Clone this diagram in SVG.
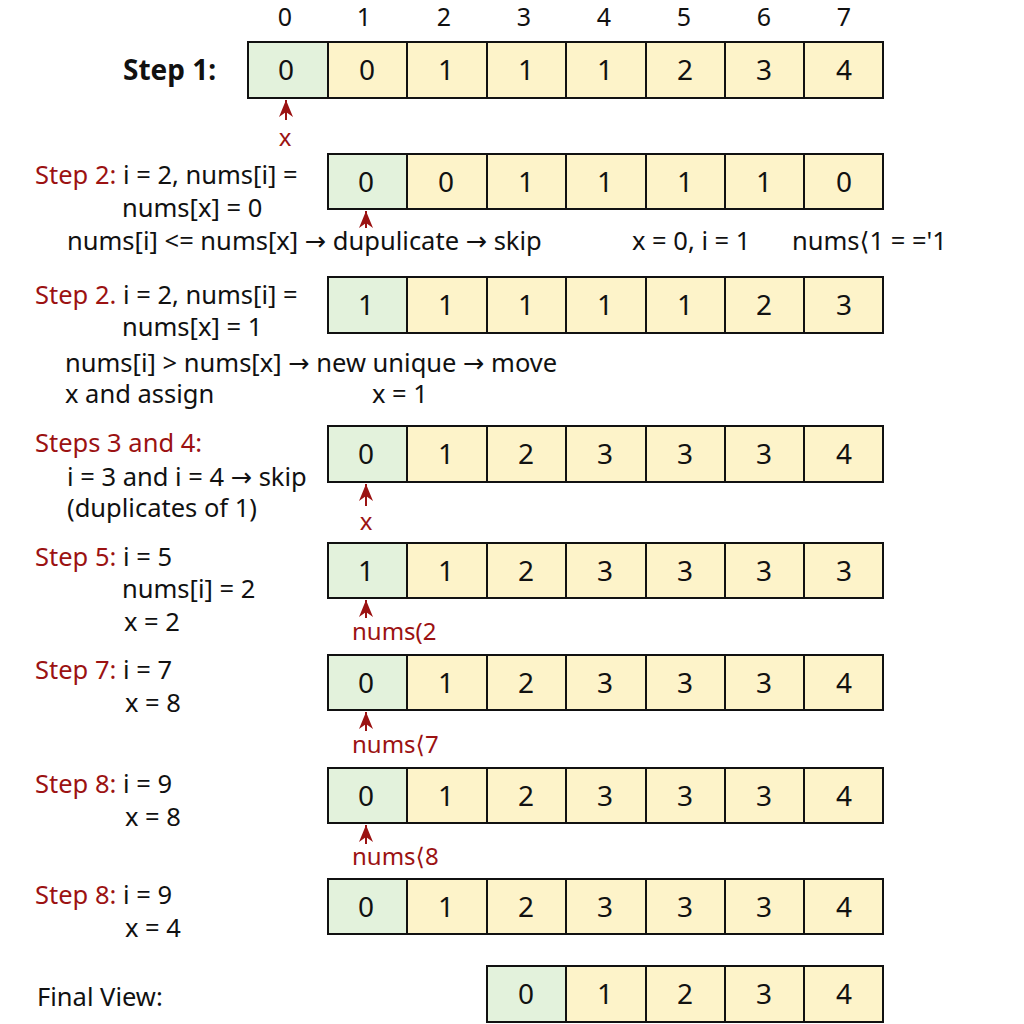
<svg xmlns="http://www.w3.org/2000/svg" width="1024" height="1024" viewBox="0 0 1024 1024">
<defs>
<style>
text{font-family:"Noto Sans","Open Sans","DejaVu Sans",sans-serif;fill:#111;}
.lbl{font-size:25.5px;}
.red{fill:#9b1212;}
.num{font-size:28px;text-anchor:middle;}
.idx{font-size:25px;text-anchor:middle;}
.g{fill:#e3f2dc;stroke:#111;stroke-width:2;}
.y{fill:#fdf3c9;stroke:#111;stroke-width:2;}
.arr{stroke:#9b1212;stroke-width:2;fill:none;}
.ah{fill:#9b1212;}
</style>
<marker id="ah" viewBox="0 0 17 14" refX="17" refY="7" markerWidth="17" markerHeight="14" markerUnits="userSpaceOnUse" orient="auto">
<path d="M17 7 L0 0 L5 7 L0 14 Z" class="ah"/>
</marker>
</defs>
<rect width="1024" height="1024" fill="#fff"/>

<g id="indices">
<text class="idx" x="285" y="26">0</text>
<text class="idx" x="364" y="26">1</text>
<text class="idx" x="444" y="26">2</text>
<text class="idx" x="524" y="26">3</text>
<text class="idx" x="604" y="26">4</text>
<text class="idx" x="684" y="26">5</text>
<text class="idx" x="764" y="26">6</text>
<text class="idx" x="844" y="26">7</text>
</g>

<g id="step1">
<text x="123" y="80" style="font-size:28px;font-weight:bold">Step 1:</text>
<rect class="g" x="248" y="42" width="80" height="56"/>
<rect class="y" x="328" y="42" width="79" height="56"/>
<rect class="y" x="407" y="42" width="80" height="56"/>
<rect class="y" x="487" y="42" width="79" height="56"/>
<rect class="y" x="566" y="42" width="80" height="56"/>
<rect class="y" x="646" y="42" width="79" height="56"/>
<rect class="y" x="725" y="42" width="79" height="56"/>
<rect class="y" x="804" y="42" width="79" height="56"/>
<text class="num" x="286" y="80">0</text>
<text class="num" x="367" y="80">0</text>
<text class="num" x="446" y="80">1</text>
<text class="num" x="526" y="80">1</text>
<text class="num" x="605" y="80">1</text>
<text class="num" x="685" y="80">2</text>
<text class="num" x="764" y="80">3</text>
<text class="num" x="844" y="80">4</text>
<text class="lbl red" x="285" y="146" text-anchor="middle" style="font-size:24px">x</text>
</g>

<g id="step2a">
<text class="lbl" x="35" y="184"><tspan class="red">Step 2:</tspan> i = 2, nums[i] =</text>
<text class="lbl" x="122" y="217">nums[x] = 0</text>
<text class="lbl" x="67" y="250">nums[i] &lt;= nums[x] → dupulicate → skip</text>
<text class="lbl" x="632" y="250">x = 0, i = 1</text>
<text class="lbl" x="792" y="250">nums⟨1 = ='1</text>
<rect class="g" x="328" y="154" width="79" height="55"/>
<rect class="y" x="407" y="154" width="80" height="55"/>
<rect class="y" x="487" y="154" width="79" height="55"/>
<rect class="y" x="566" y="154" width="80" height="55"/>
<rect class="y" x="646" y="154" width="79" height="55"/>
<rect class="y" x="725" y="154" width="79" height="55"/>
<rect class="y" x="804" y="154" width="79" height="55"/>
<text class="num" x="366" y="192">0</text>
<text class="num" x="446" y="192">0</text>
<text class="num" x="526" y="192">1</text>
<text class="num" x="605" y="192">1</text>
<text class="num" x="685" y="192">1</text>
<text class="num" x="764" y="192">1</text>
<text class="num" x="844" y="192">0</text>
</g>

<g id="step2b">
<text class="lbl" x="35" y="304"><tspan class="red">Step 2.</tspan> i = 2, nums[i] =</text>
<text class="lbl" x="122" y="336">nums[x] = 1</text>
<text class="lbl" x="65" y="372">nums[i] &gt; nums[x] → new unique → move</text>
<text class="lbl" x="65" y="403">x and assign</text>
<text class="lbl" x="372" y="403">x = 1</text>
<rect class="g" x="328" y="277" width="79" height="56"/>
<rect class="y" x="407" y="277" width="80" height="56"/>
<rect class="y" x="487" y="277" width="79" height="56"/>
<rect class="y" x="566" y="277" width="80" height="56"/>
<rect class="y" x="646" y="277" width="79" height="56"/>
<rect class="y" x="725" y="277" width="79" height="56"/>
<rect class="y" x="804" y="277" width="79" height="56"/>
<text class="num" x="366" y="315">1</text>
<text class="num" x="446" y="315">1</text>
<text class="num" x="526" y="315">1</text>
<text class="num" x="605" y="315">1</text>
<text class="num" x="685" y="315">1</text>
<text class="num" x="764" y="315">2</text>
<text class="num" x="844" y="315">3</text>
</g>

<g id="step34">
<text class="lbl red" x="35" y="452">Steps 3 and 4:</text>
<text class="lbl" x="67" y="486">i = 3 and i = 4 → skip</text>
<text class="lbl" x="67" y="517">(duplicates of 1)</text>
<rect class="g" x="328" y="426" width="79" height="56"/>
<rect class="y" x="407" y="426" width="80" height="56"/>
<rect class="y" x="487" y="426" width="79" height="56"/>
<rect class="y" x="566" y="426" width="80" height="56"/>
<rect class="y" x="646" y="426" width="79" height="56"/>
<rect class="y" x="725" y="426" width="79" height="56"/>
<rect class="y" x="804" y="426" width="79" height="56"/>
<text class="num" x="366" y="464">0</text>
<text class="num" x="446" y="464">1</text>
<text class="num" x="526" y="464">2</text>
<text class="num" x="605" y="464">3</text>
<text class="num" x="685" y="464">3</text>
<text class="num" x="764" y="464">3</text>
<text class="num" x="844" y="464">4</text>
<text class="lbl red" x="366" y="530" text-anchor="middle" style="font-size:24px">x</text>
</g>

<g id="step5">
<text class="lbl" x="35" y="566"><tspan class="red">Step 5:</tspan> i = 5</text>
<text class="lbl" x="122" y="598">nums[i] = 2</text>
<text class="lbl" x="124" y="631">x = 2</text>
<rect class="g" x="328" y="543" width="79" height="55"/>
<rect class="y" x="407" y="543" width="80" height="55"/>
<rect class="y" x="487" y="543" width="79" height="55"/>
<rect class="y" x="566" y="543" width="80" height="55"/>
<rect class="y" x="646" y="543" width="79" height="55"/>
<rect class="y" x="725" y="543" width="79" height="55"/>
<rect class="y" x="804" y="543" width="79" height="55"/>
<text class="num" x="366" y="581">1</text>
<text class="num" x="446" y="581">1</text>
<text class="num" x="526" y="581">2</text>
<text class="num" x="605" y="581">3</text>
<text class="num" x="685" y="581">3</text>
<text class="num" x="764" y="581">3</text>
<text class="num" x="844" y="581">3</text>
<text class="lbl red" x="352" y="640" style="font-size:24px">nums(2</text>
</g>

<g id="step7">
<text class="lbl" x="35" y="679"><tspan class="red">Step 7:</tspan> i = 7</text>
<text class="lbl" x="125" y="712">x = 8</text>
<rect class="g" x="328" y="655" width="79" height="55"/>
<rect class="y" x="407" y="655" width="80" height="55"/>
<rect class="y" x="487" y="655" width="79" height="55"/>
<rect class="y" x="566" y="655" width="80" height="55"/>
<rect class="y" x="646" y="655" width="79" height="55"/>
<rect class="y" x="725" y="655" width="79" height="55"/>
<rect class="y" x="804" y="655" width="79" height="55"/>
<text class="num" x="366" y="693">0</text>
<text class="num" x="446" y="693">1</text>
<text class="num" x="526" y="693">2</text>
<text class="num" x="605" y="693">3</text>
<text class="num" x="685" y="693">3</text>
<text class="num" x="764" y="693">3</text>
<text class="num" x="844" y="693">4</text>
<text class="lbl red" x="352" y="753" style="font-size:24px">nums⟨7</text>
</g>

<g id="step8a">
<text class="lbl" x="35" y="793"><tspan class="red">Step 8:</tspan> i = 9</text>
<text class="lbl" x="125" y="826">x = 8</text>
<rect class="g" x="328" y="768" width="79" height="55"/>
<rect class="y" x="407" y="768" width="80" height="55"/>
<rect class="y" x="487" y="768" width="79" height="55"/>
<rect class="y" x="566" y="768" width="80" height="55"/>
<rect class="y" x="646" y="768" width="79" height="55"/>
<rect class="y" x="725" y="768" width="79" height="55"/>
<rect class="y" x="804" y="768" width="79" height="55"/>
<text class="num" x="366" y="806">0</text>
<text class="num" x="446" y="806">1</text>
<text class="num" x="526" y="806">2</text>
<text class="num" x="605" y="806">3</text>
<text class="num" x="685" y="806">3</text>
<text class="num" x="764" y="806">3</text>
<text class="num" x="844" y="806">4</text>
<text class="lbl red" x="352" y="865" style="font-size:24px">nums⟨8</text>
</g>

<g id="step8b">
<text class="lbl" x="35" y="904"><tspan class="red">Step 8:</tspan> i = 9</text>
<text class="lbl" x="125" y="937">x = 4</text>
<rect class="g" x="328" y="879" width="79" height="55"/>
<rect class="y" x="407" y="879" width="80" height="55"/>
<rect class="y" x="487" y="879" width="79" height="55"/>
<rect class="y" x="566" y="879" width="80" height="55"/>
<rect class="y" x="646" y="879" width="79" height="55"/>
<rect class="y" x="725" y="879" width="79" height="55"/>
<rect class="y" x="804" y="879" width="79" height="55"/>
<text class="num" x="366" y="917">0</text>
<text class="num" x="446" y="917">1</text>
<text class="num" x="526" y="917">2</text>
<text class="num" x="605" y="917">3</text>
<text class="num" x="685" y="917">3</text>
<text class="num" x="764" y="917">3</text>
<text class="num" x="844" y="917">4</text>
</g>

<g id="final">
<text class="lbl" x="37" y="1006">Final View:</text>
<rect class="g" x="487" y="966" width="79" height="56"/>
<rect class="y" x="566" y="966" width="80" height="56"/>
<rect class="y" x="646" y="966" width="79" height="56"/>
<rect class="y" x="725" y="966" width="79" height="56"/>
<rect class="y" x="804" y="966" width="79" height="56"/>
<text class="num" x="526" y="1004">0</text>
<text class="num" x="605" y="1004">1</text>
<text class="num" x="685" y="1004">2</text>
<text class="num" x="764" y="1004">3</text>
<text class="num" x="844" y="1004">4</text>
</g>

<g id="connectors">
<line class="arr" x1="286" y1="120" x2="286" y2="100" marker-end="url(#ah)"/>
<line class="arr" x1="366" y1="228" x2="366" y2="211" marker-end="url(#ah)"/>
<line class="arr" x1="366" y1="506" x2="366" y2="484" marker-end="url(#ah)"/>
<line class="arr" x1="366" y1="618" x2="366" y2="600" marker-end="url(#ah)"/>
<line class="arr" x1="366" y1="731" x2="366" y2="712" marker-end="url(#ah)"/>
<line class="arr" x1="366" y1="844" x2="366" y2="825" marker-end="url(#ah)"/>
</g>
</svg>
